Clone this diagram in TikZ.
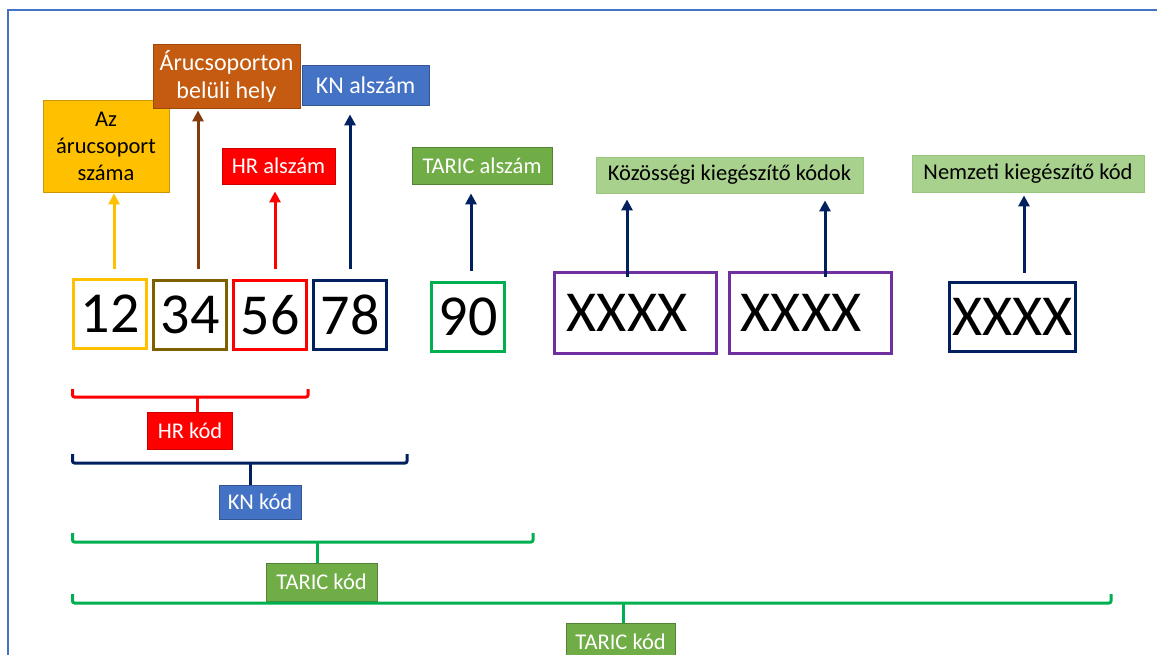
\documentclass[tikz,border=0pt]{standalone}
\usepackage{fontspec}
\setmainfont{Carlito}
\usetikzlibrary{arrows.meta}

\definecolor{cgold}{HTML}{FFC000}
\definecolor{cgoldd}{HTML}{C99700}
\definecolor{colive}{HTML}{7F6000}
\definecolor{cbrown}{HTML}{843C0C}
\definecolor{corange}{HTML}{C55A11}
\definecolor{cred}{HTML}{FF0000}
\definecolor{cnavy}{HTML}{002060}
\definecolor{cblue}{HTML}{4472C4}
\definecolor{cgreen}{HTML}{00B050}
\definecolor{cleaf}{HTML}{70AD47}
\definecolor{cleafd}{HTML}{548235}
\definecolor{cmint}{HTML}{A9D18E}
\definecolor{cpurple}{HTML}{7030A0}

\begin{document}
\begin{tikzpicture}
[x=1pt,y=-1pt,
 every node/.style={rectangle,inner sep=0pt,align=center,font=\fontsize{22.5}{27}\selectfont},
 digit/.style={draw,line width=3pt,minimum width=73pt,minimum height=69pt,font=\fontsize{58}{60}\selectfont},
 tag/.style={draw,line width=0.8pt},
 arr/.style={line width=3pt,-{Triangle[width=11pt,length=11pt]}},
 brace/.style={line width=3pt,rounded corners=2pt}]
\useasboundingbox (0,0) rectangle (1157,655);
\draw[cblue,line width=2pt] (8,655) -- (8,10) -- (1157,10);

% the code digits
\node[digit,cgold,text=black] (d12) at (110,314) {12};
\node[digit,colive,text=black] (d34) at (190,315) {34};
\node[digit,cred,text=black] (d56) at (270,315) {56};
\node[digit,cnavy,text=black] (d78) at (350,315) {78};
\node[digit,cgreen,text=black] (d90) at (468,317) {90};
\node[digit,cpurple,text=black,minimum width=162pt,minimum height=81pt] (x1) at (635.5,313) {XXXX\hspace*{17pt}};
\node[digit,cpurple,text=black,minimum width=162pt,minimum height=81pt] (x2) at (810.5,313) {XXXX\hspace*{19pt}};
\node[digit,cnavy,text=black,minimum width=126pt] (x3) at (1012.5,317) {XXXX};

% labels above
\node[tag,draw=cgoldd,fill=cgold,minimum width=126pt,minimum height=92pt] (l12) at (106,146) {Az\\árucsoport\\száma};
\node[tag,draw=corange!80!black,fill=corange,text=white,minimum width=147pt,minimum height=64pt,font=\fontsize{24}{28}\selectfont] (l34) at (226.5,76) {Árucsoporton\\belüli hely};
\node[tag,draw=cred!80!black,fill=cred,text=white,minimum width=113pt,minimum height=36pt] (l56) at (278.5,166) {HR alszám};
\node[tag,draw=cblue!75!black,fill=cblue,text=white,minimum width=127pt,minimum height=40pt,font=\fontsize{24}{28}\selectfont] (l78) at (365.5,85) {KN alszám};
\node[tag,draw=cleafd,fill=cleaf,text=white,minimum width=140pt,minimum height=37pt] (l90) at (482,165.5) {TARIC alszám};
\node[tag,draw=cleaf!70,fill=cmint,minimum width=267pt,minimum height=36pt] (lk) at (729.5,175) {Közösségi kiegészítő kódok};
\node[tag,draw=cleaf!70,fill=cmint,minimum width=232pt,minimum height=37pt] (ln) at (1028,173.5) {Nemzeti kiegészítő kód};

\foreach \from/\to/\col/\dx/\sa/\sb in {d12/l12/cgold/4/9/1,d34/l34/cbrown/8/10/2,d56/l56/cred/5/10/7,d78/l78/cnavy/0/10/9,d90/l90/cnavy/3/10/9,x1/lk/cnavy/-8.5/-6/6,x2/lk/cnavy/14.5/-6/7,x3/ln/cnavy/11.5/8/3}
  \draw[arr,\col,shorten <=\sa pt,shorten >=\sb pt] ([xshift=\dx pt]\from.north) -- ([xshift=\dx pt]\from.north |- \to.south);

% labels below
\node[tag,draw=cred!80!black,fill=cred,text=white,minimum width=85pt,minimum height=37pt] (hrk) at (190,430.5) {HR kód};
\node[tag,draw=cblue!75!black,fill=cblue,text=white,minimum width=82pt,minimum height=34pt] (knk) at (260,502) {KN kód};
\node[tag,draw=cleafd,fill=cleaf,text=white,minimum width=111pt,minimum height=38pt] (tk1) at (321.5,582) {TARIC kód};
\node[tag,draw=cleafd,fill=cleaf,text=white,minimum width=109pt,minimum height=38pt] (tk2) at (620.5,642) {TARIC kód};

% brackets
\coordinate (hrL) at (72.5,389); \coordinate (hrR) at (308,389); \coordinate (hrS) at (197,397);
\coordinate (knL) at (72.5,454); \coordinate (knR) at (407,454); \coordinate (knS) at (250,463);
\coordinate (t1L) at (72.5,533); \coordinate (t1R) at (533,533); \coordinate (t1S) at (317,542);
\coordinate (t2L) at (72.5,594); \coordinate (t2R) at (1111,594); \coordinate (t2S) at (623,603);
\foreach \b/\lab/\col in {hr/hrk/cred,kn/knk/cnavy,t1/tk1/cgreen,t2/tk2/cgreen}{
  \draw[brace,\col] (\b L) |- (\b S) -| (\b R);
  \draw[brace,\col] (\b S) -- (\b S |- \lab.north);
}
\end{tikzpicture}
\end{document}
